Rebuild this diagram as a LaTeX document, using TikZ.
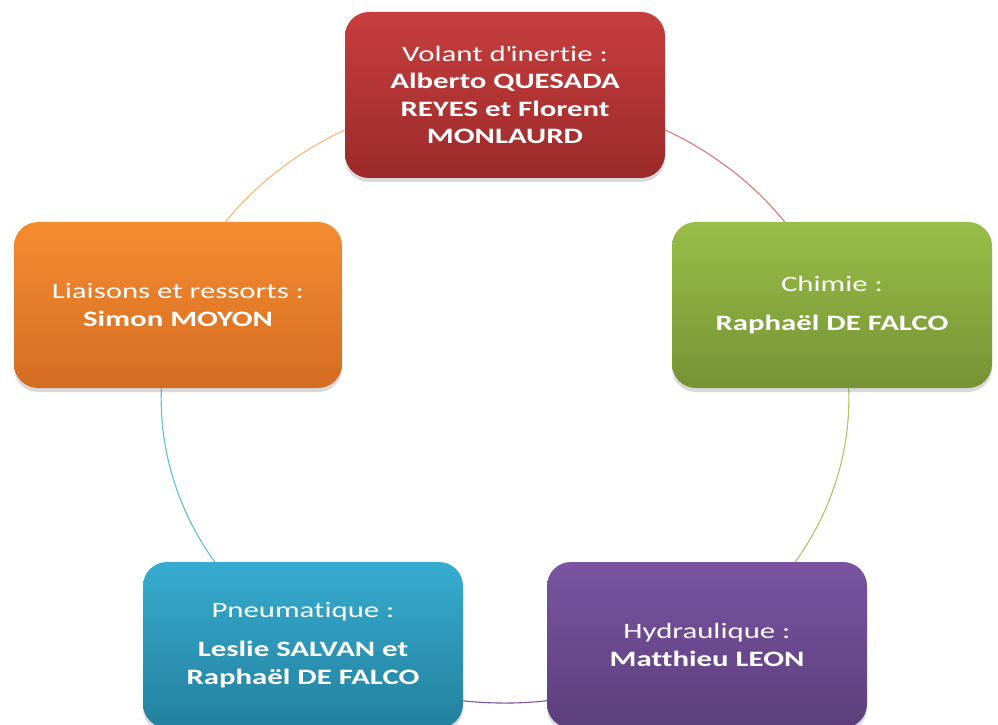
\documentclass[tikz,border=0pt]{standalone}
\usepackage{fontspec}
\setmainfont{Carlito}[FakeStretch=1.4,Ligatures=NoCommon]
\usetikzlibrary{shadows,backgrounds}
\definecolor{redtop}{HTML}{C83E3E}
\definecolor{redbot}{HTML}{9B2A2A}
\definecolor{greentop}{HTML}{98BE48}
\definecolor{greenbot}{HTML}{769234}
\definecolor{purpletop}{HTML}{7A54A0}
\definecolor{purplebot}{HTML}{5C3E7D}
\definecolor{bluetop}{HTML}{36ACD0}
\definecolor{bluebot}{HTML}{24809E}
\definecolor{orangetop}{HTML}{F68C30}
\definecolor{orangebot}{HTML}{D46C22}
\tikzset{
  box/.style={rounded corners=24pt,minimum width=320pt,minimum height=166pt,align=center,text=white,
    font=\fontsize{22}{27.5}\selectfont,drop shadow={opacity=0.3,shadow xshift=0pt,shadow yshift=-4pt}},
  redbox/.style={box,top color=redtop,bottom color=redbot},
  greenbox/.style={box,top color=greentop,bottom color=greenbot},
  purplebox/.style={box,top color=purpletop,bottom color=purplebot},
  bluebox/.style={box,top color=bluetop,bottom color=bluebot},
  orangebox/.style={box,minimum width=328pt,top color=orangetop,bottom color=orangebot},
  ring/.style={line width=1.1pt}
}

\begin{document}
\begin{tikzpicture}[x=1pt,y=1pt]
\useasboundingbox (0,0) rectangle (998,724);
\node[redbox] (vol) at (505,629) {Volant d\textquotesingle inertie :\\\textbf{Alberto QUESADA}\\\textbf{REYES et Florent}\\\textbf{MONLAURD}};
\node[greenbox] (chim) at (832,419) {Chimie :\\[12pt]\textbf{Raphaël DE FALCO}};
\node[purplebox] (hydr) at (707,79) {Hydraulique :\\\textbf{Matthieu LEON}};
\node[bluebox] (pneu) at (303,79) {Pneumatique :\\[12pt]\textbf{Leslie SALVAN et}\\\textbf{Raphaël DE FALCO}};
\node[orangebox] (liai) at (178,419) {Liaisons et ressorts :\\\textbf{Simon MOYON}};
\begin{scope}[on background layer]
\draw[ring,draw=redtop!70] (vol.center) arc[start angle=90,end angle=18,x radius=344pt,y radius=304pt];
\draw[ring,draw=greentop!85] (chim.center) arc[start angle=18,end angle=-54,x radius=344pt,y radius=304pt];
\draw[ring,draw=purpletop] (hydr.center) arc[start angle=-54,end angle=-126,x radius=344pt,y radius=304pt];
\draw[ring,draw=bluetop!80] (pneu.center) arc[start angle=-126,end angle=-198,x radius=344pt,y radius=304pt];
\draw[ring,draw=orangetop!65] (liai.center) arc[start angle=-198,end angle=-270,x radius=344pt,y radius=304pt];
\end{scope}
\end{tikzpicture}
\end{document}
